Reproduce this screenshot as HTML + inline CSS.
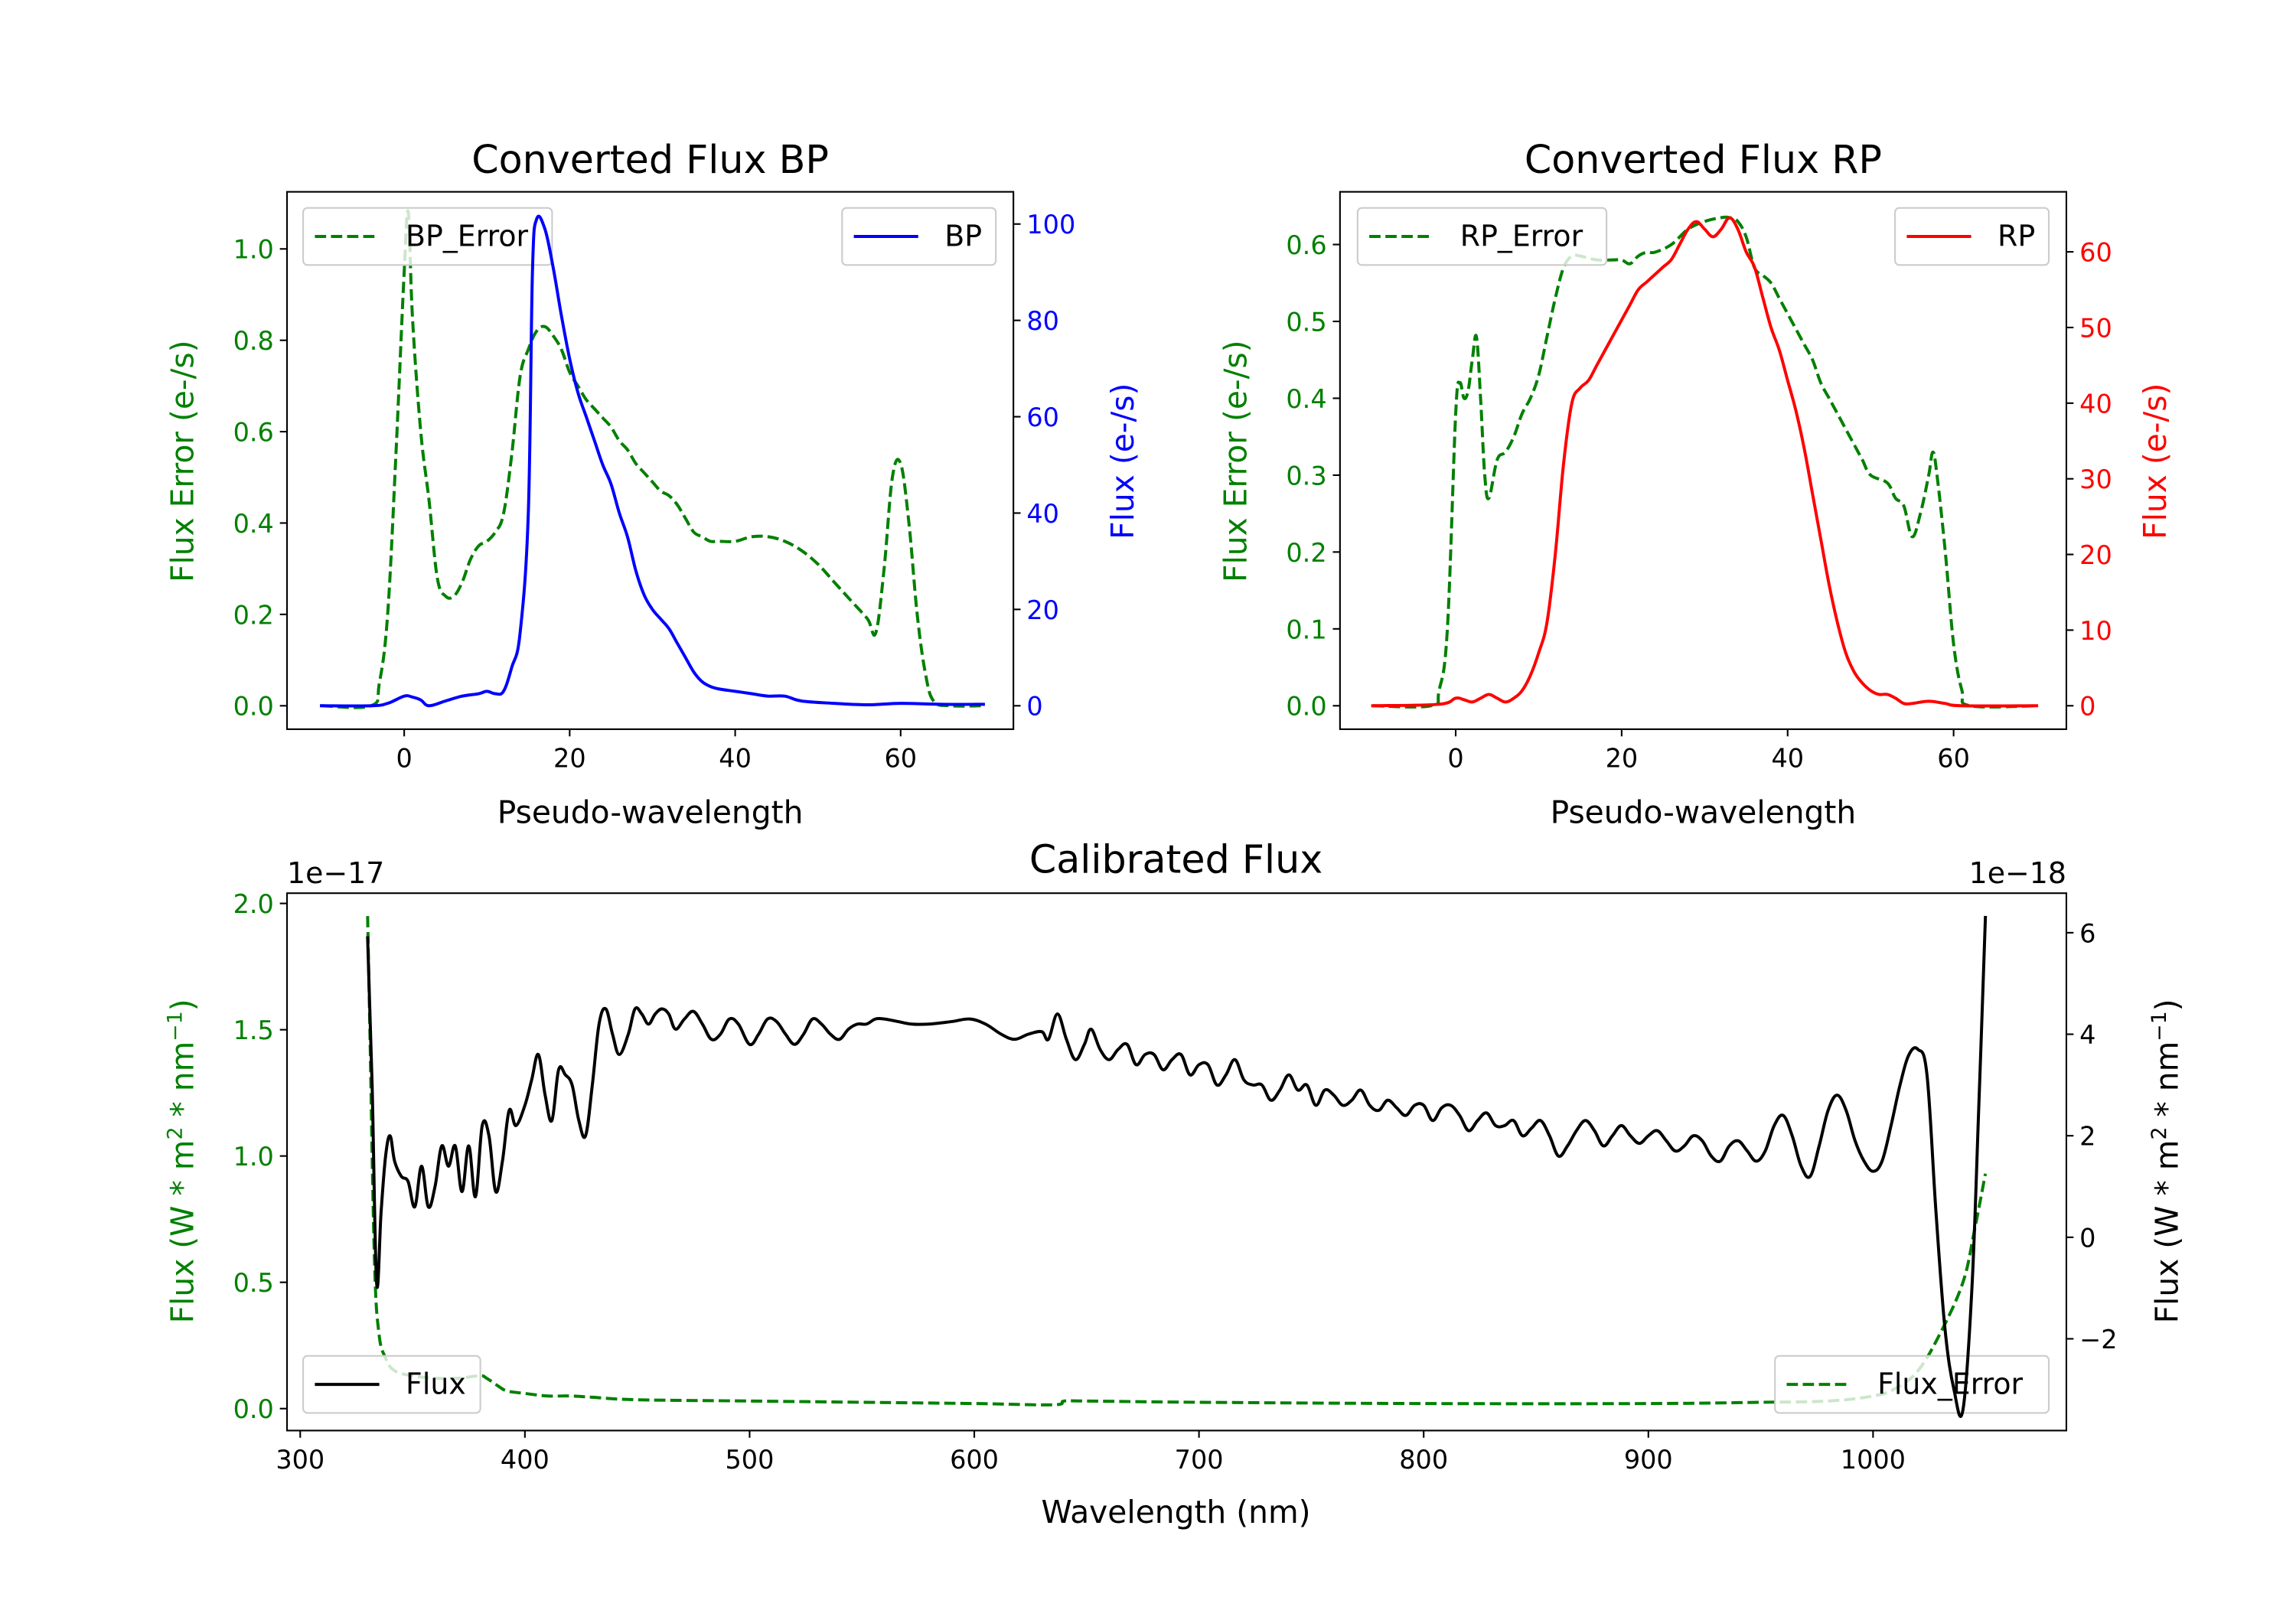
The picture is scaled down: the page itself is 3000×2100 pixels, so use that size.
<!DOCTYPE html>
<html><head><meta charset="utf-8"><style>
html,body{margin:0;padding:0;background:#fff}
svg{display:block}
text{font-family:"DejaVu Sans","Liberation Sans",sans-serif}
</style></head><body>
<svg id="fig" xmlns="http://www.w3.org/2000/svg" width="3000" height="2100" viewBox="0 0 1567.8 1097.5" preserveAspectRatio="none">
<rect x="0" y="0" width="1568" height="1098" fill="#fff"/>
</svg>
<script>
// ---------- DATA ----------
const bpX = [-10,-4,-2,0,1,2,3,5,7,9,10,11,12,13,14,15,15.5,16,17,18,19,20,21,22,23,24,25,26,27,28,29,30,31,32,33,34,35,36,37,38,40,42,44,46,48,52,56,60,65,70];
const bpFlux = [0,0,0.5,2,1.8,1.2,0,1,2,2.5,3,2.5,3,8,15,40,90,101,99,91,81,72,65,60,55,50,46,40,35,28,23,20,18,16,13,10,7,5,4,3.5,3,2.5,2,2,1,0.5,0.2,0.5,0.3,0.3];
const bpErrX = [-10,-4,-3,-2,-1,0,0.5,1,2,3,4,5,6,7,8,9,10,11,12,13,14,15,16,17,18,19,20,21,22,23,24,25,26,27,28,29,30,31,32,33,34,35,36,37,38,40,42,44,46,48,50,52,54,56,57,58,59,60,61,62,63,64,66,70];
const bpErr = [0,0,0.05,0.2,0.55,0.95,1.08,0.85,0.6,0.45,0.28,0.24,0.24,0.27,0.32,0.35,0.36,0.38,0.42,0.55,0.72,0.78,0.82,0.83,0.81,0.78,0.73,0.7,0.67,0.65,0.63,0.61,0.58,0.56,0.53,0.51,0.49,0.47,0.46,0.44,0.41,0.38,0.37,0.36,0.36,0.36,0.37,0.37,0.36,0.34,0.31,0.27,0.23,0.19,0.16,0.3,0.5,0.53,0.4,0.2,0.07,0.01,0,0];
const rpX = [-10,-2,0,1,2,3,4,5,6,7,8,9,10,11,12,13,14,15,16,17,18,19,20,21,22,23,24,25,26,27,28,29,30,31,32,33,34,35,36,37,38,39,40,41,42,43,44,45,46,47,48,49,50,51,52,53,54,55,57,59,61,70];
const rpFlux = [0,0.2,1,0.8,0.5,1,1.5,1,0.5,1,2,4,7,11,20,32,40,42,43,45,47,49,51,53,55,56,57,58,59,61,63,64,63,62,63,64.5,63,60,58,54,50,47,43,39,34,28,22,16,11,7,4.5,3,2,1.5,1.5,1,0.3,0.3,0.6,0.3,0,0];
const rpErrX = [-10,-3,-2,-1,0,0.5,1,1.5,2,2.5,3,3.5,4,5,6,7,8,9,10,11,12,13,14,15,17,19,20,21,22,23,24,26,28,30,32,33,34,35,36,37,38,39,40,41,42,43,44,45,46,47,48,49,50,52,53,54,55,56,57,57.5,58,59,60,61,62,70];
const rpErr = [0,0,0.02,0.1,0.38,0.42,0.4,0.41,0.45,0.48,0.4,0.3,0.27,0.32,0.33,0.35,0.38,0.4,0.43,0.48,0.53,0.57,0.585,0.585,0.58,0.58,0.58,0.575,0.585,0.59,0.59,0.6,0.62,0.63,0.635,0.635,0.63,0.61,0.57,0.56,0.55,0.53,0.51,0.49,0.47,0.45,0.42,0.4,0.38,0.36,0.34,0.32,0.3,0.29,0.27,0.26,0.22,0.25,0.3,0.33,0.3,0.2,0.08,0.02,0,0];
const calWl = [330,332,334,336,338,340,342,345,348,351,354,357,360,363,366,369,372,375,378,381,384,387,390,393,396,400,403,406,409,412,415,418,421,424,427,430,433,436,439,442,446,449,452,455,458,461,464,467,471,475,479,483,487,491,495,500,504,508,512,516,520,524,528,532,536,540,544,548,552,556,560,566,572,580,590,598,605,612,618,624,630,633,637,641,645,649,652,656,660,664,668,672,676,680,684,688,692,696,700,704,708,712,716,720,724,728,732,736,740,744,748,752,756,760,764,768,772,776,780,784,788,792,796,800,804,808,812,816,820,824,828,832,836,840,844,848,852,856,860,864,868,872,876,880,884,888,892,896,900,904,908,912,916,920,924,928,932,936,940,944,948,952,956,960,964,968,972,976,980,984,988,992,996,1000,1004,1008,1012,1016,1020,1024,1028,1032,1036,1040,1044,1047,1050];
const calFlux = [5.9,3,-0.9,0.5,1.6,2.0,1.5,1.2,1.1,0.6,1.4,0.6,1.0,1.8,1.4,1.8,0.9,1.8,0.8,2.2,2.0,0.9,1.5,2.5,2.2,2.6,3.1,3.6,2.8,2.3,3.3,3.2,3.0,2.3,2.0,3.0,4.2,4.5,4.0,3.6,4.0,4.5,4.4,4.2,4.4,4.5,4.4,4.1,4.3,4.45,4.2,3.9,4.0,4.3,4.2,3.8,4.0,4.3,4.25,4.0,3.8,4.0,4.3,4.2,4.0,3.9,4.1,4.2,4.2,4.3,4.3,4.25,4.2,4.2,4.25,4.3,4.2,4.0,3.9,4.0,4.05,3.9,4.4,3.9,3.5,3.8,4.1,3.7,3.5,3.7,3.8,3.4,3.6,3.6,3.3,3.5,3.6,3.2,3.4,3.4,3.0,3.2,3.5,3.1,3.0,3.0,2.7,2.9,3.2,2.9,3.0,2.6,2.9,2.8,2.6,2.7,2.9,2.6,2.5,2.7,2.55,2.4,2.6,2.6,2.3,2.55,2.6,2.4,2.1,2.3,2.45,2.2,2.2,2.3,2.0,2.15,2.3,2.0,1.6,1.8,2.1,2.3,2.1,1.8,2.0,2.2,2.0,1.85,2.0,2.1,1.9,1.7,1.8,2.0,1.9,1.6,1.5,1.8,1.9,1.7,1.5,1.7,2.2,2.4,2.0,1.4,1.2,1.8,2.5,2.8,2.5,1.9,1.5,1.3,1.5,2.2,3.0,3.6,3.7,3.2,0.5,-1.8,-3.0,-3.4,-1.0,2.5,6.3];
const errWl = [330,331,333,335,338,342,350,360,370,380,383,388,392,400,410,420,430,450,500,550,600,635,640,650,700,800,900,950,980,1000,1010,1020,1030,1040,1045,1050];
const calErr = [1.95,1.5,0.6,0.3,0.2,0.15,0.13,0.12,0.12,0.13,0.12,0.09,0.07,0.06,0.05,0.05,0.045,0.035,0.03,0.025,0.02,0.015,0.03,0.03,0.025,0.02,0.02,0.025,0.03,0.05,0.08,0.15,0.3,0.5,0.7,0.93];
const bpXTicks = [0,20,40,60];
const bpLTicks = ["0.0","0.2","0.4","0.6","0.8","1.0"];
const bpRTicks = ["0","20","40","60","80","100"];
const rpLTicks = ["0.0","0.1","0.2","0.3","0.4","0.5","0.6"];
const rpRTicks = ["0","10","20","30","40","50","60"];
const calXTicks = [300,400,500,600,700,800,900,1000];
const calLTicks = ["0.0","0.5","1.0","1.5","2.0"];
const calRTicks = ["−2","0","2","4","6"];

// ---------- DRAW ----------
const NS="http://www.w3.org/2000/svg";
const fig=document.getElementById('fig');
const TICKFS=17.5, LABFS=21.3, TITFS=26.5, LEGFS=19.8;
function mk(tag,attrs,parent){const e=document.createElementNS(NS,tag);for(const k in attrs)e.setAttribute(k,attrs[k]);(parent||fig).appendChild(e);return e;}
function lin(d0,d1,p0,p1){return v=>p0+(v-d0)*(p1-p0)/(d1-d0);}
function txt(s,x,y,o,parent){const t=mk('text',Object.assign({x:x,y:y,'font-size':TICKFS,fill:'#000'},o||{}),parent);t.textContent=s;return t;}
function path(xs,ys,sx,sy,color,dash,name,parent){
  const P=xs.map((x,i)=>[sx(x),sy(ys[i])]);
  let d='M'+P[0][0].toFixed(2)+','+P[0][1].toFixed(2);
  for(let i=0;i<P.length-1;i++){
    const p0=P[Math.max(0,i-1)],p1=P[i],p2=P[i+1],p3=P[Math.min(P.length-1,i+2)];
    const t=0.18;
    const c1=[p1[0]+(p2[0]-p0[0])*t,p1[1]+(p2[1]-p0[1])*t];
    const c2=[p2[0]-(p3[0]-p1[0])*t,p2[1]-(p3[1]-p1[1])*t];
    d+='C'+c1[0].toFixed(2)+','+c1[1].toFixed(2)+' '+c2[0].toFixed(2)+','+c2[1].toFixed(2)+' '+p2[0].toFixed(2)+','+p2[1].toFixed(2);
  }
  const p=mk('path',{d:d,fill:'none',stroke:color,'stroke-width':2.08,'stroke-linejoin':'round','stroke-linecap':dash?'butt':'square'},parent);
  if(dash)p.setAttribute('stroke-dasharray','7.7,3.3');
  
  
  return p;
}
function legend(x,y,w,label,color,dash,name){
  const g=mk('g',{});
  
  
  mk('rect',{x:x,y:y,width:w,height:39,rx:3,fill:'#fff','fill-opacity':0.8,stroke:'#ccc','stroke-width':1.1},g);
  const l=mk('line',{x1:x+8,y1:y+19.5,x2:x+52,y2:y+19.5,stroke:color,'stroke-width':2.08},g);
  if(dash)l.setAttribute('stroke-dasharray','7.7,3.3');
  txt(label,x+70,y+26,{'font-size':LEGFS},g);
}
function frame(L,R,T,B,name){
  const r=mk('rect',{x:L,y:T,width:R-L,height:B-T,fill:'none',stroke:'#000','stroke-width':1.1});
  
  
}
function xticks(vals,sx,B,name){
  const g=mk('g',{});
  vals.forEach(v=>{const x=sx(v);mk('line',{x1:x,y1:B,x2:x,y2:B+4.9,stroke:'#000','stroke-width':1.1},g);txt(String(v),x,B+26,{'text-anchor':'middle'},g);});
}
function yticks(labels,sy,X,side,color,name){
  const g=mk('g',{});
  labels.forEach(s=>{const v=parseFloat(s.replace('−','-'));const y=sy(v);
    mk('line',{x1:X,y1:y,x2:X+(side<0?-4.9:4.9),y2:y,stroke:'#000','stroke-width':1.1},g);
    txt(s,side<0?X-9:X+9,y+6.5,{'text-anchor':side<0?'end':'start',fill:color},g);});
}
function vlabel(s,x,y,color,name){const t=txt(s,x,y,{'text-anchor':'middle',fill:color,'font-size':LABFS,transform:'rotate(-90 '+x+' '+y+')'});return t;}
function title(s,x,y,name){const t=txt(s,x,y,{'text-anchor':'middle','font-size':TITFS});}
function hlabel(s,x,y,name){const t=txt(s,x,y,{'text-anchor':'middle','font-size':LABFS});}

// ---- BP panel ----
{
  const L=196,R=692,T=131,B=498;
  const sx=lin(0,60,276,615), sl=lin(0,1,482,170), sr=lin(0,100,482,153);
  path(bpErrX,bpErr,sx,sl,'#008000',true,'bp-error-line');
  legend(207,142,170,'BP_Error','#008000',true,'bp-error-legend');
  path(bpX,bpFlux,sx,sr,'#0000ff',false,'bp-flux-line');
  legend(575,142,105,'BP','#0000ff',false,'bp-legend');
  frame(L,R,T,B,'bp-axes');
  xticks(bpXTicks,sx,B,'bp-x-ticks');
  yticks(bpLTicks,sl,L,-1,'#008000','bp-left-ticks');
  yticks(bpRTicks,sr,R,1,'#0000ff','bp-right-ticks');
  title('Converted Flux BP',444,118,'bp-title');
  hlabel('Pseudo-wavelength',444,562,'bp-x-title');
  vlabel('Flux Error (e-/s)',132,315,'#008000','bp-left-title');
  vlabel('Flux (e-/s)',774,315,'#0000ff','bp-right-title');
}
// ---- RP panel ----
{
  const L=915,R=1411,T=131,B=498;
  const sx=lin(0,60,994,1334), sl=lin(0,0.6,482,167), sr=lin(0,60,482,172);
  path(rpErrX,rpErr,sx,sl,'#008000',true,'rp-error-line');
  legend(927,142,170,'RP_Error','#008000',true,'rp-error-legend');
  path(rpX,rpFlux,sx,sr,'#ff0000',false,'rp-flux-line');
  legend(1294,142,105,'RP','#ff0000',false,'rp-legend');
  frame(L,R,T,B,'rp-axes');
  xticks(bpXTicks,sx,B,'rp-x-ticks');
  yticks(rpLTicks,sl,L,-1,'#008000','rp-left-ticks');
  yticks(rpRTicks,sr,R,1,'#ff0000','rp-right-ticks');
  title('Converted Flux RP',1163,118,'rp-title');
  hlabel('Pseudo-wavelength',1163,562,'rp-x-title');
  vlabel('Flux Error (e-/s)',851,315,'#008000','rp-left-title');
  vlabel('Flux (e-/s)',1479,315,'#ff0000','rp-right-title');
}
// ---- Calibrated panel ----
{
  const L=196,R=1411,T=610,B=977;
  const sx=lin(300,1000,205,1279), sl=lin(0,2,962,617), sr=lin(0,6,845,637);
  path(errWl,calErr,sx,sl,'#008000',true,'flux-error-line');
  legend(207,926,121,'Flux','#000',false,'flux-legend');
  legend(1212,926,187,'Flux_Error','#008000',true,'flux-error-legend');
  path(calWl,calFlux,sx,sr,'#000',false,'flux-line');
  frame(L,R,T,B,'calibrated-axes');
  xticks(calXTicks,sx,B,'cal-x-ticks');
  yticks(calLTicks,sl,L,-1,'#008000','cal-left-ticks');
  yticks(calRTicks,sr,R,1,'#000','cal-right-ticks');
  title('Calibrated Flux',803,596,'cal-title');
  hlabel('Wavelength (nm)',803,1040,'cal-x-title');
  let t=txt('1e−17',196,603,{'font-size':LEGFS});
  t=txt('1e−18',1411,603,{'font-size':LEGFS,'text-anchor':'end'});
  t=vlabel('',132,793,'#008000','cal-left-title');
  t.innerHTML='Flux (W * m<tspan dy="-8" font-size="14">2</tspan><tspan dy="8"> * nm</tspan><tspan dy="-8" font-size="14">−1</tspan><tspan dy="8">)</tspan>';
  t=vlabel('',1487,793,'#000','cal-right-title');
  t.innerHTML='Flux (W * m<tspan dy="-8" font-size="14">2</tspan><tspan dy="8"> * nm</tspan><tspan dy="-8" font-size="14">−1</tspan><tspan dy="8">)</tspan>';
}
</script>
</body></html>
